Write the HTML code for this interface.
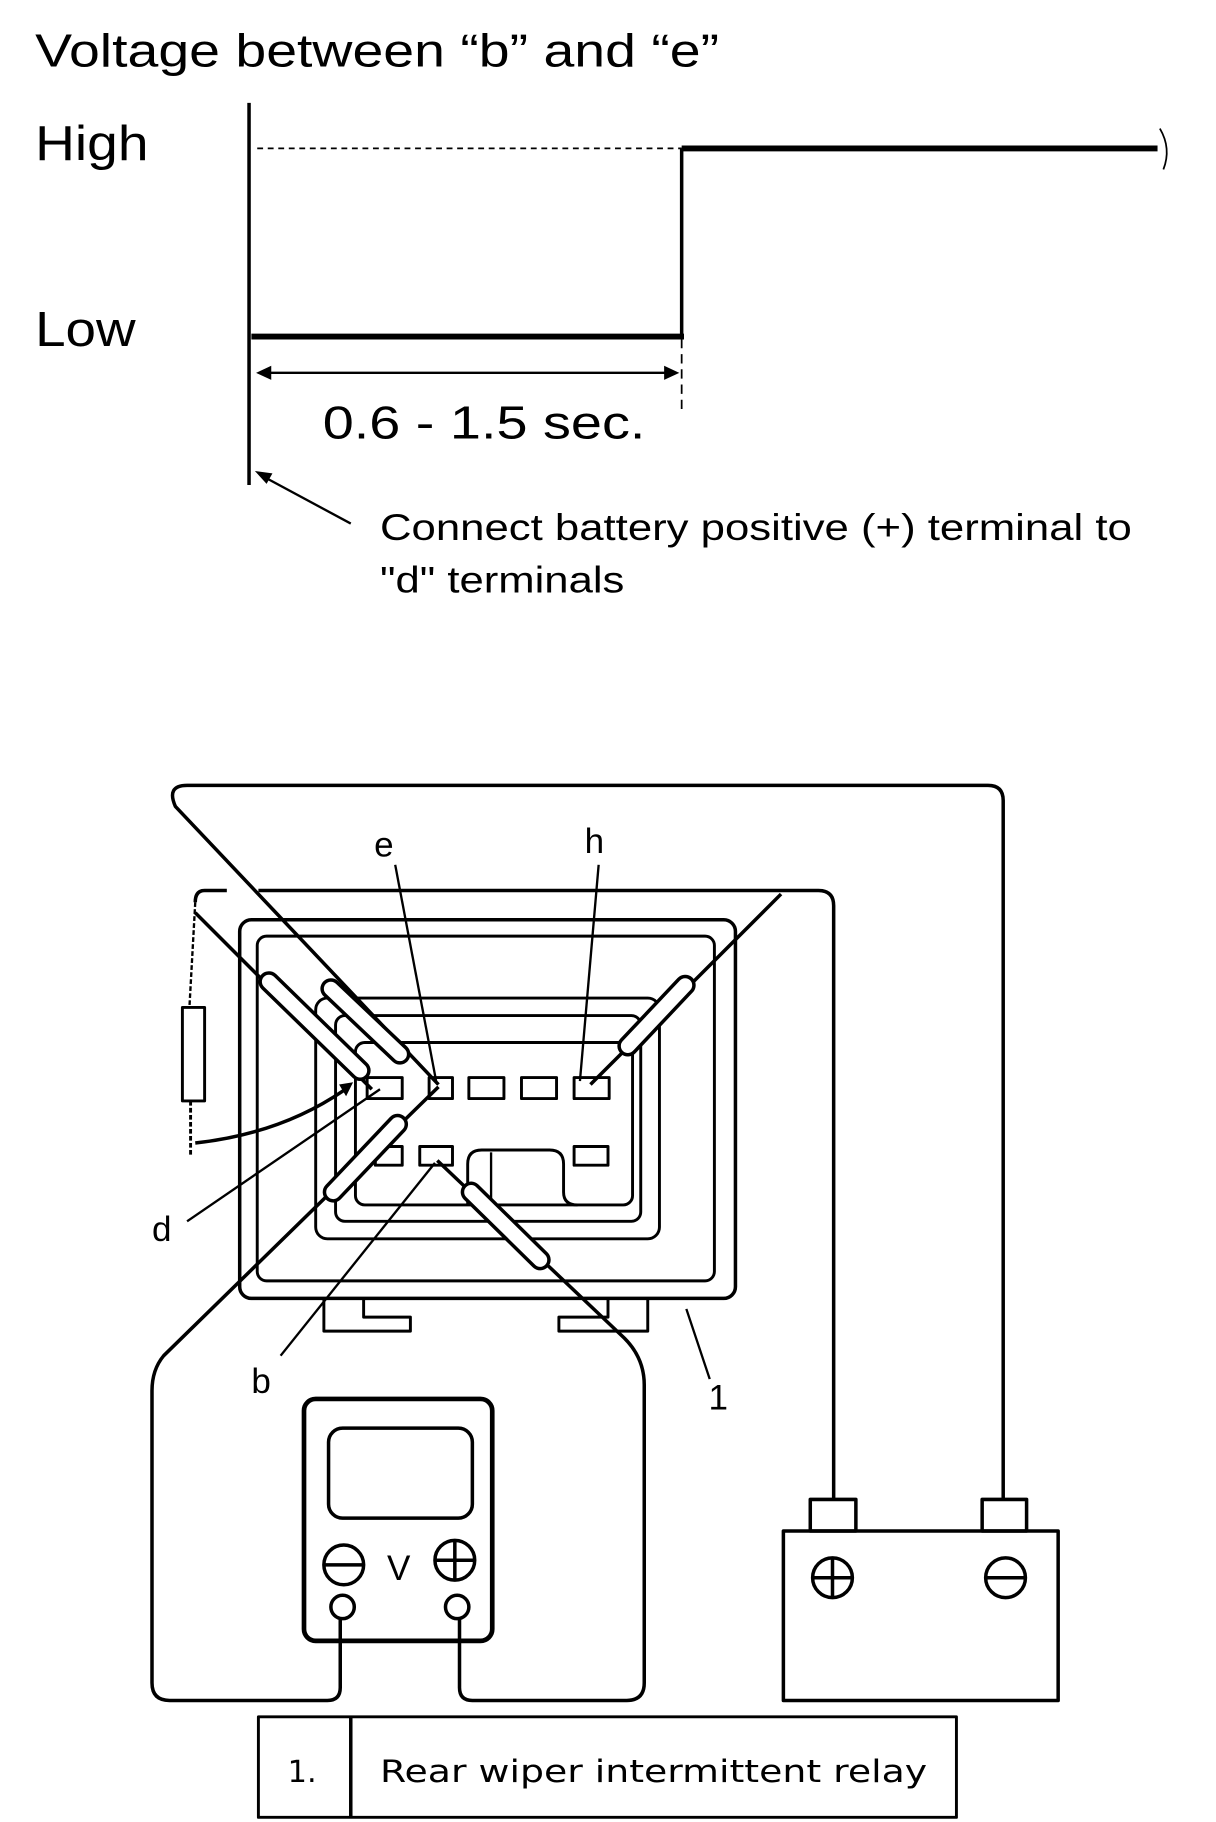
<!DOCTYPE html>
<html><head><meta charset="utf-8"><style>
html,body{margin:0;padding:0;background:#fff;}
svg{display:block;}
text{font-family:"Liberation Sans",Arial,sans-serif;fill:#000;}
</style></head><body>
<svg width="1216" height="1822" viewBox="0 0 1040 1559" preserveAspectRatio="none" xmlns="http://www.w3.org/2000/svg">
<g fill="none" stroke="#000">
<line x1="213" y1="88" x2="213" y2="415" stroke-width="3"/>
<line x1="220" y1="127" x2="583" y2="127" stroke-width="1.5" stroke-dasharray="5,4"/>
<line x1="583" y1="127" x2="990" y2="127" stroke-width="5"/>
<path d="M992 110 Q1002 127 995 145" stroke-width="1.5"/>
<line x1="583" y1="127" x2="583" y2="290" stroke-width="3"/>
<line x1="215" y1="288" x2="585" y2="288" stroke-width="5"/>
<line x1="583" y1="290" x2="583" y2="355" stroke-width="1.5" stroke-dasharray="8,5"/>
<line x1="222" y1="319" x2="578" y2="319" stroke-width="2"/>
<line x1="300" y1="448" x2="222" y2="406" stroke-width="2"/>
</g>
<g fill="#000">
<path d="M219 319 L232 313 L232 325Z"/>
<path d="M581 319 L568 313 L568 325Z"/>
<path d="M218 403 L233 405 L228 414Z"/>
</g>
<text x="30" y="57" font-size="40" textLength="585" lengthAdjust="spacingAndGlyphs">Voltage between “b” and “e”</text>
<text x="30" y="137" font-size="42" textLength="97" lengthAdjust="spacingAndGlyphs">High</text>
<text x="30" y="296" font-size="42" textLength="86" lengthAdjust="spacingAndGlyphs">Low</text>
<text x="276" y="375" font-size="40" textLength="276" lengthAdjust="spacingAndGlyphs">0.6 - 1.5 sec.</text>
<text x="325" y="462" font-size="32" textLength="643" lengthAdjust="spacingAndGlyphs">Connect battery positive (+) terminal to</text>
<text x="325" y="507" font-size="32" textLength="209" lengthAdjust="spacingAndGlyphs">"d" terminals</text>

<g fill="none" stroke="#000" stroke-width="3" stroke-linejoin="round">
<rect x="205" y="787" width="424" height="324" rx="10"/>
<rect x="220" y="801" width="391" height="295" rx="8" stroke-width="2.5"/>
<rect x="270" y="854" width="294" height="206" rx="10" stroke-width="2.5"/>
<rect x="287" y="869" width="261" height="176" rx="8" stroke-width="2.5"/>
<rect x="304" y="892" width="237" height="139" rx="8" stroke-width="2.5"/>
<path d="M277 1111 V1139 H351 V1127 H311 V1111" stroke-width="2.5"/>
<path d="M554 1111 V1139 H478 V1127 H520 V1111" stroke-width="2.5"/>
<rect x="314" y="922" width="30" height="18" stroke-width="2.5"/>
<rect x="367" y="922" width="20" height="18" stroke-width="2.5"/>
<rect x="401" y="922" width="30" height="18" stroke-width="2.5"/>
<rect x="446" y="922" width="30" height="18" stroke-width="2.5"/>
<rect x="491" y="922" width="30" height="18" stroke-width="2.5"/>
<rect x="321" y="981" width="23" height="16" stroke-width="2.5"/>
<rect x="359" y="981" width="28" height="16" stroke-width="2.5"/>
<rect x="491" y="981" width="29" height="16" stroke-width="2.5"/>
<path d="M400 1031 V996 Q400 984 412 984 H470 Q482 984 482 996 V1020 Q482 1031 494 1031" stroke-width="2.5"/>
<line x1="420" y1="986" x2="420" y2="1030" stroke-width="2"/>
<path d="M375 928 L150 690 Q142 672 160 672 H845 Q858 672 858 685 V1283"/>
<path d="M221 762 H700 Q713 762 713 775 V1283"/>
<path d="M668 765 L505 928"/>
<path d="M194 762 H175 Q167 762 167 772"/>
<path d="M167 781 L318 932"/>
<path d="M167 772 L162 862" stroke-width="2" stroke-dasharray="4,2"/>
<rect x="156" y="862" width="19" height="80" stroke-width="2.5"/>
<line x1="163" y1="942" x2="163" y2="990" stroke-width="2.5" stroke-dasharray="4,2"/>
<path d="M167 978 Q240 970 294 933" stroke-width="3"/>
<path d="M375 930 L140 1160 Q130 1172 130 1190 V1440 Q130 1455 145 1455 H280 Q291 1455 291 1444 V1385"/>
<path d="M374 993 L534 1145 Q551 1162 551 1185 V1440 Q551 1455 536 1455 H404 Q393 1455 393 1444 V1385"/>
<line x1="338" y1="740" x2="373" y2="925" stroke-width="2"/>
<line x1="512" y1="740" x2="496" y2="925" stroke-width="2"/>
<line x1="160" y1="1045" x2="325" y2="932" stroke-width="2"/>
<line x1="240" y1="1160" x2="372" y2="995" stroke-width="2"/>
<line x1="607" y1="1180" x2="587" y2="1120" stroke-width="2"/>
<rect x="670" y="1310" width="235" height="145"/>
<rect x="693" y="1283" width="39" height="27"/>
<rect x="840" y="1283" width="38" height="27"/>
<circle cx="712" cy="1350" r="17"/>
<line x1="695" y1="1350" x2="729" y2="1350"/><line x1="712" y1="1333" x2="712" y2="1367"/>
<circle cx="860" cy="1350" r="17"/>
<line x1="843" y1="1350" x2="877" y2="1350"/>
<rect x="260" y="1197" width="161" height="207" rx="10" stroke-width="4"/>
<rect x="281" y="1222" width="123" height="77" rx="12"/>
<circle cx="294" cy="1339" r="17"/>
<line x1="277" y1="1339" x2="311" y2="1339"/>
<circle cx="389" cy="1335" r="17"/>
<line x1="372" y1="1335" x2="406" y2="1335"/><line x1="389" y1="1318" x2="389" y2="1352"/>
<circle cx="293" cy="1375" r="10" fill="#fff"/>
<circle cx="391" cy="1375" r="10" fill="#fff"/>
<rect x="221" y="1469" width="597" height="86" stroke-width="2.5"/>
<line x1="300" y1="1469" x2="300" y2="1555" stroke-width="3"/>
</g>
<g stroke="#000" stroke-linecap="round">
<line x1="230" y1="840" x2="308" y2="916" stroke-width="18"/>
<line x1="230" y1="840" x2="308" y2="916" stroke-width="12" stroke="#fff"/>
<line x1="283" y1="846" x2="342" y2="902" stroke-width="18"/>
<line x1="283" y1="846" x2="342" y2="902" stroke-width="12" stroke="#fff"/>
<line x1="586" y1="843" x2="537" y2="895" stroke-width="18"/>
<line x1="586" y1="843" x2="537" y2="895" stroke-width="12" stroke="#fff"/>
<line x1="285" y1="1020" x2="340" y2="962" stroke-width="18"/>
<line x1="285" y1="1020" x2="340" y2="962" stroke-width="12" stroke="#fff"/>
<line x1="403" y1="1020" x2="462" y2="1078" stroke-width="18"/>
<line x1="403" y1="1020" x2="462" y2="1078" stroke-width="12" stroke="#fff"/>
</g>
<path d="M302 926 L290 928 L296 938Z" fill="#000"/>
<text x="320" y="733" font-size="30">e</text>
<text x="500" y="730" font-size="30">h</text>
<text x="130" y="1062" font-size="30">d</text>
<text x="215" y="1192" font-size="30">b</text>
<text x="606" y="1206" font-size="30">1</text>
<text x="331" y="1352" font-size="30">V</text>
<text x="246" y="1525" font-size="26" style="font-family:'DejaVu Sans',sans-serif">1.</text>
<text x="325" y="1525" font-size="27" textLength="468" lengthAdjust="spacingAndGlyphs" style="font-family:'DejaVu Sans',sans-serif">Rear wiper intermittent relay</text>
</svg>
</body></html>
